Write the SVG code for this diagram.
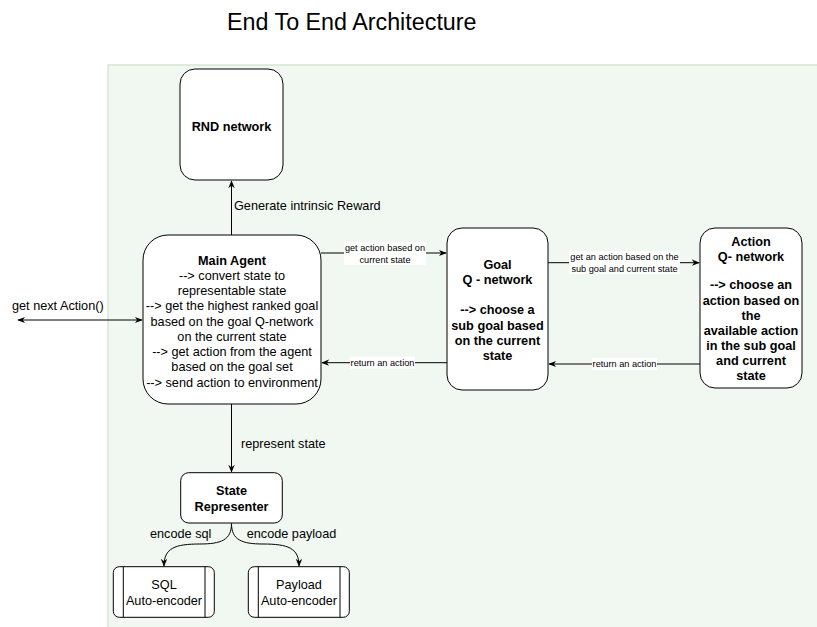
<svg xmlns="http://www.w3.org/2000/svg" width="817" height="627" viewBox="0 0 817 627">
<defs>
<style>
text{font-family:"Liberation Sans",Arial,Helvetica,sans-serif;fill:#000}
.t{font-size:12.7px}
.b{font-size:12.7px;font-weight:bold}
.s{font-size:9.2px}
.m{text-anchor:middle}
.box{fill:#fff;stroke:#000;stroke-width:1}
.edge{fill:none;stroke:#000;stroke-width:1}
.lbl{fill:#fff;stroke:none}
</style>
<marker id="ah" viewBox="0 0 10 10" refX="9" refY="5" markerWidth="8" markerHeight="8" orient="auto-start-reverse" markerUnits="userSpaceOnUse">
<path d="M0,1 L10,5 L0,9 L3,5 z" fill="#000"/>
</marker>
</defs>
<rect x="0" y="0" width="817" height="627" fill="#fff"/>
<rect x="108" y="65" width="712" height="570" fill="#f1f8f1" stroke="#d5e8d4" stroke-width="1.5"/>
<text x="227" y="30" style="font-size:23.3px">End To End Architecture</text>

<g id="connectors">
<path class="edge" d="M231.5 235 L231.5 181" marker-end="url(#ah)"/>
<text class="t" x="234" y="210">Generate intrinsic Reward</text>
<path class="edge" d="M18 320 L142 320" marker-start="url(#ah)" marker-end="url(#ah)"/>
<text class="t" x="12" y="310">get next Action()</text>
<path class="edge" d="M321 253 L446 253" marker-end="url(#ah)"/>
<rect class="lbl" x="344" y="242" width="82" height="23"/>
<text class="s m" x="385" y="251">get action based on</text>
<text class="s m" x="385" y="262.5">current state</text>
<path class="edge" d="M548 262.7 L699 262.7" marker-end="url(#ah)"/>
<rect class="lbl" x="569" y="251" width="111" height="23"/>
<text class="s m" x="624.5" y="260">get an action based on the</text>
<text class="s m" x="624.5" y="272">sub goal and current state</text>
<path class="edge" d="M700 364 L549 364" marker-end="url(#ah)"/>
<rect class="lbl" x="592" y="358" width="65" height="12"/>
<text class="s m" x="624.5" y="367.3">return an action</text>
<path class="edge" d="M447 362.7 L322 362.7" marker-end="url(#ah)"/>
<rect class="lbl" x="350" y="356.7" width="65" height="12"/>
<text class="s m" x="382.5" y="366">return an action</text>
<path class="edge" d="M231.5 404 L231.5 472" marker-end="url(#ah)"/>
<text class="t" x="241" y="447.5">represent state</text>
<path class="edge" d="M231.5 523.5 C231.5 540 221 544 200 544 C175 544 164 548 164 566" marker-end="url(#ah)"/>
<path class="edge" d="M231.5 523.5 C231.5 540 242 544 263 544 C288 544 299 548 299 566" marker-end="url(#ah)"/>
<text class="t" x="150" y="537.5">encode sql</text>
<text class="t" x="246.7" y="537.5">encode payload</text>
</g>

<g id="rnd">
<rect class="box" x="180" y="69" width="103" height="111" rx="15"/>
<text class="b m" x="231.5" y="130.5">RND network</text>
</g>

<g id="main-agent">
<rect class="box" x="143" y="235" width="178" height="169" rx="25"/>
<text class="b m" x="232" y="264.5">Main Agent</text>
<text class="t m" x="232" y="279.5">--&gt; convert state to</text>
<text class="t m" x="232" y="294.8">representable state</text>
<text class="t m" x="232" y="310.2">--&gt; get the highest ranked goal</text>
<text class="t m" x="232" y="325.5">based on the goal Q-network</text>
<text class="t m" x="232" y="340.8">on the current state</text>
<text class="t m" x="232" y="355.8">--&gt; get action from the agent</text>
<text class="t m" x="232" y="371.2">based on the goal set</text>
<text class="t m" x="232" y="386.5">--&gt; send action to environment</text>
</g>

<g id="goal-q">
<rect class="box" x="447" y="228" width="101" height="162" rx="15"/>
<text class="b m" x="497.5" y="268.5">Goal</text>
<text class="b m" x="497.5" y="283.8">Q - network</text>
<text class="b m" x="497.5" y="314.2">--&gt; choose a</text>
<text class="b m" x="497.5" y="329.5">sub goal based</text>
<text class="b m" x="497.5" y="344.5">on the current</text>
<text class="b m" x="497.5" y="359.5">state</text>
</g>

<g id="action-q">
<rect class="box" x="700" y="228" width="102" height="160" rx="15"/>
<text class="b m" x="751" y="245.8">Action</text>
<text class="b m" x="751" y="260.8">Q- network</text>
<text class="b m" x="751" y="288.8">--&gt; choose an</text>
<text class="b m" x="751" y="304.5">action based on</text>
<text class="b m" x="751" y="319.5">the</text>
<text class="b m" x="751" y="334.5">available action</text>
<text class="b m" x="751" y="349.8">in the sub goal</text>
<text class="b m" x="751" y="364.8">and current</text>
<text class="b m" x="751" y="379.8">state</text>
</g>

<g id="state-representer">
<rect class="box" x="180.7" y="472.7" width="101.6" height="50.3" rx="8"/>
<text class="b m" x="231.5" y="495.2">State</text>
<text class="b m" x="231.5" y="511.2">Representer</text>
</g>

<g id="sql-ae">
<rect class="box" x="113.3" y="566.7" width="101" height="50.6" rx="6"/>
<line class="edge" x1="123.3" y1="566.7" x2="123.3" y2="617.3"/>
<line class="edge" x1="205" y1="566.7" x2="205" y2="617.3"/>
<text class="t m" x="164" y="588.8">SQL</text>
<text class="t m" x="164" y="604.5">Auto-encoder</text>
</g>

<g id="payload-ae">
<rect class="box" x="248.3" y="566.7" width="101" height="50.6" rx="6"/>
<line class="edge" x1="258.3" y1="566.7" x2="258.3" y2="617.3"/>
<line class="edge" x1="340" y1="566.7" x2="340" y2="617.3"/>
<text class="t m" x="299" y="588.8">Payload</text>
<text class="t m" x="299" y="604.5">Auto-encoder</text>
</g>
</svg>
